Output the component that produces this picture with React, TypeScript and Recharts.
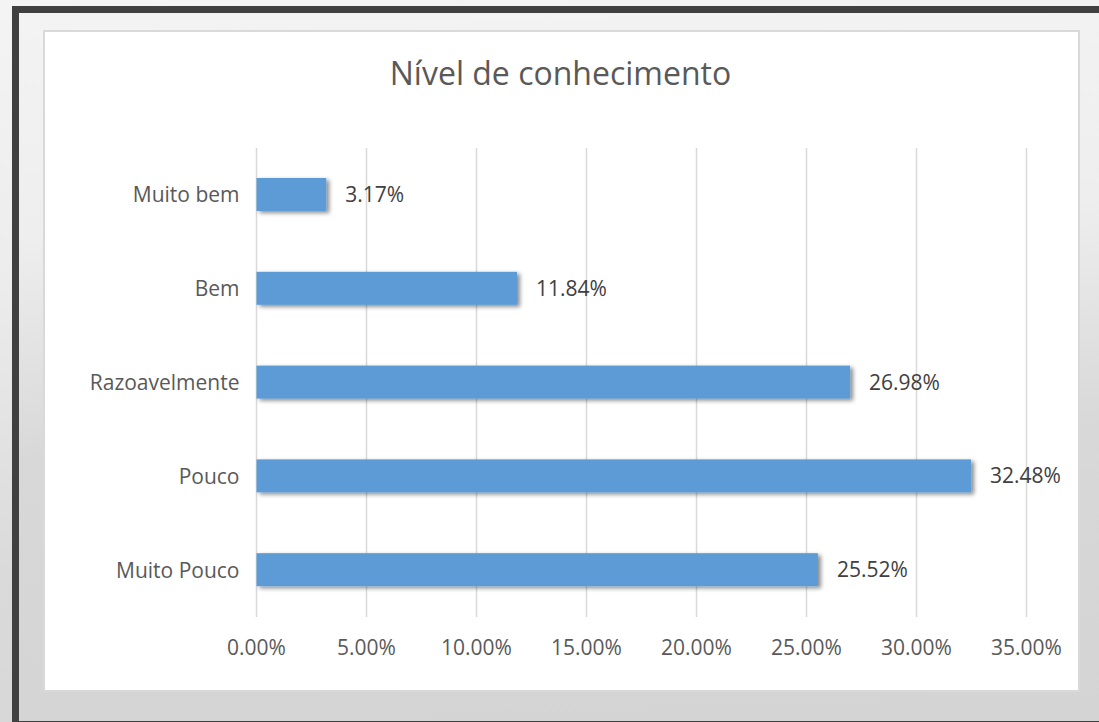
import React from "react";
import { BarChart, Bar, XAxis, YAxis, CartesianGrid, LabelList } from "recharts";

// Nível de conhecimento — share of answers per level
const categories = ["Muito bem", "Bem", "Razoavelmente", "Pouco", "Muito Pouco"];
const shares = [0.0317, 0.1184, 0.2698, 0.3248, 0.2552];
const xTicks = [0, 0.05, 0.1, 0.15, 0.2, 0.25, 0.3, 0.35];

const data = categories.map((name, i) => ({ name, value: shares[i] }));

const pct = (v: number) => `${(Number(v) * 100).toFixed(2)}%`;

const FONT = "'Open Sans', sans-serif";

const ShadowBar = (props: any) => {
  const { x, y, width, height, fill } = props;
  if (!width || width <= 0) return null;
  return (
    <rect
      x={x}
      y={y}
      width={width}
      height={height}
      fill={fill}
      filter="url(#barShadow)"
    />
  );
};

export default function App() {
  return (
    <div
      style={{
        position: "absolute",
        left: 0,
        top: 0,
        width: 1099,
        height: 722,
        overflow: "hidden",
        fontFamily: FONT,
        background:
          "linear-gradient(175deg, #f4f4f4 0%, #ececec 35%, #dadada 70%, #d6d6d6 100%)",
      }}
    >
      {/* dark picture frame */}
      <div
        style={{
          position: "absolute",
          left: 12,
          top: 6,
          width: 1120,
          height: 722,
          boxSizing: "border-box",
          border: "7px solid #404040",
          borderRight: "none",
        }}
      />
      <div
        style={{
          position: "absolute",
          left: 19,
          top: 13,
          width: 1100,
          height: 708,
          background:
            "linear-gradient(178deg, #f3f3f3 0%, #eeeeee 30%, #d8d8d8 60%, #d4d4d4 100%)",
        }}
      />
      {/* white chart panel */}
      <div
        style={{
          position: "absolute",
          left: 43,
          top: 30,
          width: 1037,
          height: 662,
          boxSizing: "border-box",
          border: "2px solid #d9d9d9",
          background: "#ffffff",
        }}
      />
      <svg width={0} height={0} style={{ position: "absolute" }}>
        <defs>
          <filter id="barShadow" x="-10%" y="-40%" width="130%" height="200%">
            <feDropShadow
              dx="3"
              dy="2"
              stdDeviation="2"
              floodColor="#000000"
              floodOpacity="0.45"
            />
          </filter>
        </defs>
      </svg>
      <div
        style={{
          position: "absolute",
          left: 43,
          top: 57,
          width: 1035,
          textAlign: "center",
          fontSize: 32,
          lineHeight: "32px",
          color: "#595959",
        }}
      >
        Nível de conhecimento
      </div>
      <div style={{ position: "absolute", left: 43, top: 30 }}>
        <BarChart
          width={1035}
          height={660}
          data={data}
          layout="vertical"
          margin={{ top: 118, right: 51.5, bottom: 33, left: 0 }}
        >
          <CartesianGrid horizontal={false} stroke="#d9d9d9" strokeWidth={1.5} />
          <XAxis
            type="number"
            domain={[0, 0.35]}
            ticks={xTicks}
            tickFormatter={pct}
            axisLine={false}
            tickLine={false}
            tickSize={0}
            tickMargin={23}
            height={40}
            interval={0}
            tick={{ fontSize: 21, fill: "#595959", fontFamily: FONT }}
          />
          <YAxis
            type="category"
            dataKey="name"
            width={213.5}
            axisLine={false}
            tickLine={false}
            tickSize={0}
            tickMargin={17}
            interval={0}
            tick={{ fontSize: 21, fill: "#595959", fontFamily: FONT }}
          />
          <Bar
            dataKey="value"
            fill="#5b9bd5"
            barSize={33}
            shape={ShadowBar}
            isAnimationActive={false}
          >
            <LabelList
              dataKey="value"
              position="right"
              offset={19}
              formatter={pct}
              style={{ fontSize: 21, fill: "#404040", fontFamily: FONT }}
            />
          </Bar>
        </BarChart>
      </div>
    </div>
  );
}
